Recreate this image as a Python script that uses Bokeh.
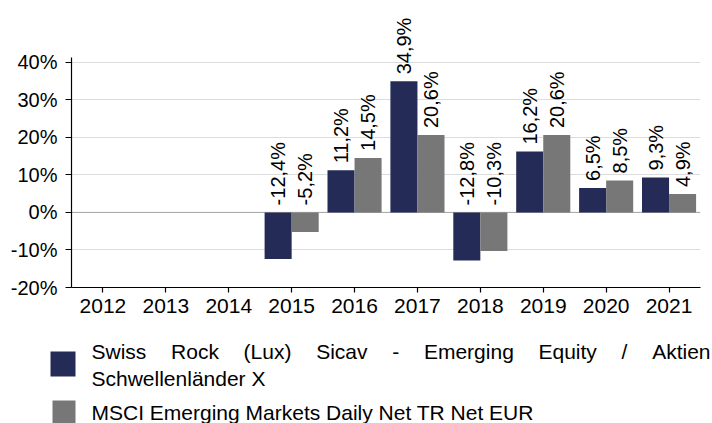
import math
from bokeh.plotting import figure
from bokeh.models import (ColumnDataSource, FactorRange, Range1d, FixedTicker,
                          PrintfTickFormatter, LabelSet, Span)
from bokeh.transform import dodge
from bokeh.layouts import column
from bokeh.core.properties import value
from bokeh.embed import file_html
from bokeh.resources import INLINE

# ---------------- data ----------------
years = ["2012", "2013", "2014", "2015", "2016", "2017", "2018", "2019", "2020", "2021"]
data_years = ["2015", "2016", "2017", "2018", "2019", "2020", "2021"]
fund = [-12.4, 11.2, 34.9, -12.8, 16.2, 6.5, 9.3]
bench = [-5.2, 14.5, 20.6, -10.3, 20.6, 8.5, 4.9]
y_ticks = [-20, -10, 0, 10, 20, 30, 40]
fund_name = "Swiss Rock (Lux) Sicav - Emerging Equity / Aktien Schwellenländer X"
bench_name = "MSCI Emerging Markets Daily Net TR Net EUR"

# ---------------- style ----------------
NAVY = "#242B56"
GREY = "#777777"
FONT = "Liberation Sans"
FS = 20
FS_X = 21
FS_LEG = 21

def fmt(v):
    return ("%.1f%%" % v).replace(".", ",")

src = ColumnDataSource(dict(
    year=data_years,
    fund=fund,
    bench=bench,
    fy=[max(v, 0) for v in fund],
    by=[max(v, 0) for v in bench],
    fl=[fmt(v) for v in fund],
    bl=[fmt(v) for v in bench],
))

p = figure(width=712, height=338, x_range=FactorRange(*years), y_range=Range1d(-20, 54.3),
           output_backend="svg", toolbar_location=None,
           min_border_left=71, min_border_right=12, min_border_top=8, min_border_bottom=51)
p.outline_line_color = None
p.background_fill_color = "white"
p.border_fill_color = "white"

W = 0.43
p.vbar(x=dodge("year", -W / 2, range=p.x_range), top="fund", bottom=0, width=W,
       source=src, fill_color=NAVY, line_color=None)
p.vbar(x=dodge("year", W / 2, range=p.x_range), top="bench", bottom=0, width=W,
       source=src, fill_color=GREY, line_color=None)

for xoff, ycol, tcol in [(-W / 2, "fy", "fl"), (W / 2, "by", "bl")]:
    p.add_layout(LabelSet(x=dodge("year", xoff, range=p.x_range), y=ycol, text=tcol, source=src,
                          angle=math.pi / 2, text_align="left", text_baseline="middle",
                          y_offset=7, text_font=value(FONT), text_font_size=f"{FS}px",
                          text_color="black"))

p.add_layout(Span(location=0, dimension="width", line_color="#a6a6a6", line_width=1, level="underlay"))

p.xgrid.grid_line_color = None
p.ygrid.grid_line_color = "#dcdcdc"
p.ygrid.grid_line_width = 1

p.yaxis.ticker = FixedTicker(ticks=y_ticks)
p.yaxis.formatter = PrintfTickFormatter(format="%d%%")
p.yaxis.bounds = (-20, 41.3)

for ax in (p.xaxis[0], p.yaxis[0]):
    ax.axis_line_color = "black"
    ax.axis_line_width = 1.2
    ax.major_tick_line_color = "black"
    ax.major_tick_line_width = 1.2
    ax.major_tick_in = 0
    ax.minor_tick_line_color = None
    ax.major_label_text_font = FONT
    ax.major_label_text_color = "black"
p.yaxis.major_label_text_font_size = f"{FS}px"
p.xaxis.major_label_text_font_size = f"{FS_X}px"
p.xaxis.major_tick_out = 5
p.xaxis.major_label_standoff = 6
p.yaxis.major_tick_out = 6
p.yaxis.major_label_standoff = 8

# ---------------- legend (separate panel) ----------------
lg = figure(width=712, height=85, x_range=Range1d(0, 712), y_range=Range1d(85, 0),
            output_backend="svg", toolbar_location=None,
            min_border_left=0, min_border_right=0, min_border_top=0, min_border_bottom=0,
            x_axis_type=None, y_axis_type=None)
if "frame_align" in lg.properties():
    lg.frame_align = False
lg.outline_line_color = None
lg.xgrid.visible = False
lg.ygrid.visible = False

lg.quad(left=[50, 52], right=[75, 75], top=[13, 62], bottom=[38, 85],
        fill_color=[NAVY, GREY], line_color=None)

ARIAL = {'S': 667, 'w': 722, 'i': 222, 's': 500, 'R': 722, 'o': 556, 'c': 500, 'k': 500,
         '(': 333, 'L': 556, 'u': 556, 'x': 500, ')': 333, 'a': 556, 'v': 500, '-': 333,
         'E': 667, 'm': 833, 'e': 556, 'r': 333, 'g': 556, 'n': 556, 'q': 556, 't': 278,
         'y': 500, '/': 278, 'A': 667}

def tw(word):
    return sum(ARIAL.get(ch, 556) for ch in word) * FS_LEG / 1000.0

words = fund_name.split()
line1 = words[:9]
line2 = " ".join(words[9:])
left, right = 91, 710
total = sum(tw(w_) for w_ in line1)
gap = (right - left - total) / (len(line1) - 1)
xs, pos = [], left
for w_ in line1:
    xs.append(pos)
    pos += tw(w_) + gap

common = dict(text_baseline="alphabetic", text_font=value(FONT),
              text_font_size=f"{FS_LEG}px", text_color="black")
lg.text(x=xs[:-1], y=[13] * (len(line1) - 1), text=line1[:-1], text_align="left", **common)
lg.text(x=[right], y=[13], text=[line1[-1]], text_align="right", **common)
lg.text(x=[left, left], y=[40, 74], text=[line2, bench_name], text_align="left", **common)

layout = column(p, lg, spacing=0)
open("out.html", "w").write(file_html(layout, INLINE))
